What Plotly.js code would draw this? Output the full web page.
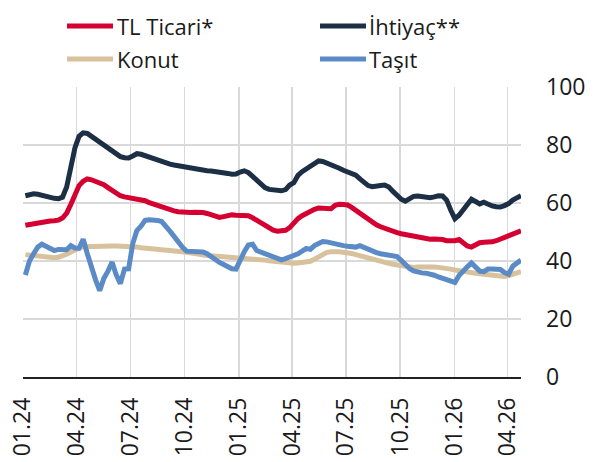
<!DOCTYPE html>
<html>
<head>
<meta charset="utf-8">
<script src="https://cdn.plot.ly/plotly-3.0.1.min.js"></script>
<style>html,body{margin:0;padding:0;background:#fff;}#chart{width:601px;height:462px;}</style>
</head>
<body>
<div id="chart"></div>
<script>
// Weekly observations, first week 2024-01-05, 121 weeks
const startDate = '2024-01-05';
const seriesNames = ['TL Ticari*', 'İhtiyaç**', 'Konut', 'Taşıt'];
const seriesColors = ['#d50032', '#1c2f45', '#d8c19d', '#5b8bc7'];

const tlTicari = [52.3,52.6,52.9,53.2,53.5,53.7,53.8,53.9,54.1,54.8,56.5,59.5,63,66,67.5,68.3,68,67.5,67,66.3,
65.3,64.3,63.3,62.5,62.1,61.9,61.8,61.6,61.3,60.8,60.1,59.6,59.1,58.5,58,57.6,57.3,57,56.8,56.7,
56.7,56.8,56.9,56.7,56.4,55.9,55.3,55,55.3,55.7,55.9,55.8,55.7,55.8,55.6,54.9,54,53,52,51.3,
50.6,50.3,50.3,50.6,51.5,53.2,54.6,55.6,56.5,57.2,57.8,58.3,58.2,58.1,58,59.2,59.6,59.5,59.3,58.5,
57.5,56.3,55.1,54.2,53.3,52.5,51.8,51.2,50.6,50.2,49.8,49.4,49.1,48.9,48.8,48.4,47.8,47.5,47.5,47.6,
47.7,47.4,47,46.8,47,47.4,46,45.2,44.8,45.5,46.3,46.5,46.5,46.6,47,47.5,48,48.5,49.2,49.8,50.4];

const ihtiyac = [62.5,63,63.2,63,62.6,62.2,61.8,61.6,61.5,62,65.5,72,79,83,84.2,84,83,82,81.2,80.4,
79.5,78.3,77,76,75.6,75.5,76.2,77,76.8,76.3,75.6,75.1,74.8,74.3,73.9,73.4,73.1,72.8,72.5,72.2,
71.9,71.6,71.4,71.2,71.1,71,70.9,70.8,70.6,70.2,69.9,70,70.7,71.1,70.5,69.2,67.8,66.4,65.3,64.7,
64.5,64.5,64.2,64.6,66.2,67,69.5,70.8,71.8,72.4,73.8,74.5,74.3,73.8,73.2,72.6,72,71.3,70.8,70.3,
69.6,68.3,67,66,65.6,65.6,66,66.2,65.5,64,62.6,61.3,60.6,61.4,62.3,62.4,62.1,61.9,61.8,62.1,
62.5,62.4,61,57.5,54.6,55.8,57.8,59.8,61.3,60.5,59.7,60.3,59.4,59,58.7,58.6,59.1,59.8,61,61.9,62.5];

const konut = [42.2,42,41.8,41.6,41.4,41.2,41.1,41.1,41.3,41.7,42.3,43.1,43.9,44.5,44.9,45,45,45,45,45.1,
45.1,45.2,45.2,45.2,45.1,45,44.9,44.8,44.6,44.5,44.4,44.2,44.1,44,43.9,43.8,43.6,43.4,43.2,43,
42.7,42.4,42.2,42,41.9,41.8,41.7,41.6,41.5,41.5,41.4,41.4,41.3,41.2,41.1,40.9,40.7,40.5,40.3,40.1,
39.9,39.7,39.6,39.4,39.2,39.2,39.3,39.4,39.6,39.9,40.6,41.5,42.4,43,43.2,43.3,43.2,43,42.9,42.6,
42.2,41.8,41.3,40.8,40.4,40.1,39.8,39.5,39.2,38.9,38.6,38.3,38,37.8,37.8,37.9,38,38.1,38,37.9,
37.8,37.7,37.5,37.2,36.9,36.6,36.4,36.2,36,35.8,35.6,35.4,35.2,35,34.8,34.6,34.7,35,35.5,35.9,36.3];

const tasit = [35.2,40,42.5,44.8,45.8,45,44,43.6,44,44,43.9,45.3,44.5,44.4,47.5,42.5,37.5,33.5,29.8,34,
36.5,39.6,35.2,32.2,37.2,37.3,46,50.5,52,54,54.2,54.3,54,53.6,52.2,50.3,48.5,46.5,44.8,43.4,
43.3,43.5,43.5,43.1,42.5,41.4,40.3,39.5,38.8,37.8,37.3,37.2,40.5,43.2,45.5,45.8,43.6,43,42.6,42,
41.4,40.9,40.4,40.8,41.3,41.9,42.5,43.4,44.3,44,45.3,46,46.7,46.6,46.2,45.9,45.6,45.3,45.1,44.9,
44.8,45.3,44.6,44,43.4,42.9,42.5,42.2,42,41.8,41.5,40.2,38.7,37.4,36.6,36.1,35.9,35.8,35.6,35.1,
34.5,34,33.5,33,32.6,35,36.7,38,39.3,38,36.5,36.3,37.2,37.2,37.2,37.1,36,35.4,38.2,39.3,40.3];

const yTickVals = [0, 20, 40, 60, 80, 100];

function weeklyDates(start, n) {
  const out = [];
  const d0 = new Date(start + 'T00:00:00Z');
  for (let i = 0; i < n; i++) {
    const d = new Date(d0.getTime() + i * 7 * 86400000);
    out.push(d.toISOString().slice(0, 10));
  }
  return out;
}
const dates = weeklyDates(startDate, tlTicari.length);

const allSeries = [tlTicari, ihtiyac, konut, tasit];
// draw order: Konut, Taşıt, TL Ticari, İhtiyaç
const order = [2, 3, 0, 1];
const traces = order.map(i => ({
  x: dates, y: allSeries[i], type: 'scatter', mode: 'lines', name: seriesNames[i],
  line: {color: seriesColors[i], width: 5, shape: 'linear'},
  showlegend: false, hoverinfo: 'skip'
}));

const W = 601, H = 462, ML = 23, MR = 80, MT = 87, MB = 85;
const pw = W - ML - MR, ph = H - MT - MB;
const px = x => (x - ML) / pw;
const py = y => (H - MB - y) / ph;

// legend drawn as shapes + annotations (2 columns)
const legPos = [
  {lx0: 67, lx1: 113, tx: 115, y: 26},
  {lx0: 320, lx1: 366, tx: 367, y: 26},
  {lx0: 67, lx1: 113, tx: 115, y: 59},
  {lx0: 320, lx1: 366, tx: 367, y: 59}
];
const shapes = [], annotations = [];
legPos.forEach((p, i) => {
  shapes.push({type: 'line', xref: 'paper', yref: 'paper', x0: px(p.lx0), x1: px(p.lx1), y0: py(p.y), y1: py(p.y),
    line: {color: seriesColors[i], width: 5}});
  annotations.push({xref: 'paper', yref: 'paper', x: px(p.tx), y: py(p.y), xanchor: 'left', yanchor: 'middle',
    text: seriesNames[i], showarrow: false, font: {family: 'Open Sans', size: 22, color: '#1a1a1a'}});
});

const layout = {
  width: W, height: H,
  margin: {l: ML, r: MR, t: MT, b: MB, pad: 0},
  paper_bgcolor: '#fff', plot_bgcolor: '#fff',
  font: {family: 'Open Sans', size: 23, color: '#1a1a1a'},
  showlegend: false,
  xaxis: {
    type: 'date', range: ['2024-01-01', '2026-04-24'],
    tick0: '2024-01-01', dtick: 'M3', tickformat: '%m.%y', tickangle: -90,
    showgrid: true, gridcolor: '#d9d9d9', gridwidth: 1.5,
    showline: true, linecolor: '#222', linewidth: 1.5,
    ticks: '', zeroline: false, ticklabelstandoff: 10,
    tickfont: {family: 'Open Sans', size: 23, color: '#1a1a1a'}
  },
  yaxis: {
    side: 'right', range: [0, 100], tickvals: yTickVals,
    showgrid: true, gridcolor: '#d9d9d9', gridwidth: 1.5,
    zeroline: false, showline: false, ticks: '', ticklabelstandoff: 24,
    tickfont: {family: 'Open Sans', size: 23, color: '#1a1a1a'}
  },
  shapes: shapes,
  annotations: annotations
};

Plotly.newPlot('chart', traces, layout, {displayModeBar: false, staticPlot: true});
</script>
</body>
</html>
